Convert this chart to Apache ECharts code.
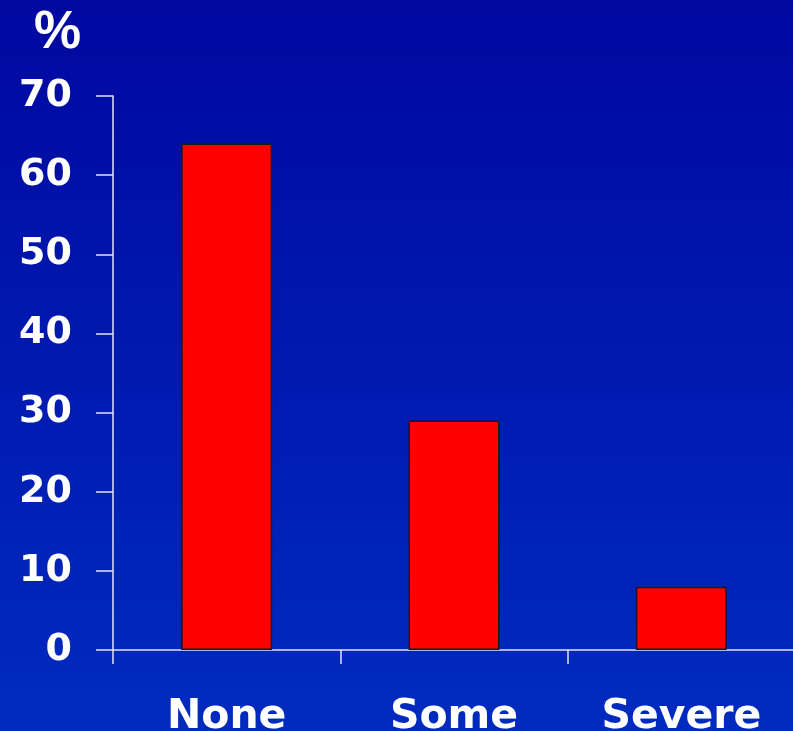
<!DOCTYPE html>
<html>
<head>
<meta charset="utf-8">
<script src="https://cdn.jsdelivr.net/npm/echarts@6/dist/echarts.min.js"></script>
<style>
  html, body { margin: 0; padding: 0; background: #0018B0; overflow: hidden; }
  #chart { width: 793px; height: 731px; }
</style>
</head>
<body>
<div id="chart"></div>
<script>
// Severity categories and the share (%) in each
const categories = ['None', 'Some', 'Severe'];
const percentValues = [64, 29, 8];
const yTicks = { min: 0, max: 70, interval: 10 };
const unitLabel = '%';

const chart = echarts.init(document.getElementById('chart'), null, { renderer: 'canvas' });

const axisColor = '#E4E4F4';

chart.setOption({
  animation: false,
  backgroundColor: {
    type: 'linear', x: 0, y: 0, x2: 0, y2: 1,
    colorStops: [
      { offset: 0, color: '#0008A0' },
      { offset: 1, color: '#002BBF' }
    ]
  },
  title: {
    text: unitLabel,
    left: 29,
    top: 2,
    textStyle: {
      color: '#FFFFFF',
      fontFamily: 'Liberation Sans',
      fontWeight: 'bold',
      fontSize: 53
    }
  },
  // fixed plot rectangle; labels may sit outside it without shrinking it
  grid: {
    left: 113, width: 682, top: 96, height: 554,
    containLabel: false,
    outerBoundsMode: 'none'
  },
  xAxis: {
    type: 'category',
    data: categories,
    axisLine: { show: true, lineStyle: { color: axisColor, width: 1.5 } },
    axisTick: { show: true, alignWithLabel: false, length: 14, lineStyle: { color: axisColor, width: 1.5 } },
    axisLabel: {
      color: '#FFFFFF',
      fontFamily: 'DejaVu Sans',
      fontWeight: 'bold',
      fontSize: 41,
      margin: 47
    },
    splitLine: { show: false }
  },
  yAxis: {
    type: 'value',
    min: yTicks.min,
    max: yTicks.max,
    interval: yTicks.interval,
    axisLine: { show: true, lineStyle: { color: axisColor, width: 1.5 } },
    axisTick: { show: true, length: 17, lineStyle: { color: axisColor, width: 1.5 } },
    axisLabel: {
      color: '#FFFFFF',
      fontFamily: 'DejaVu Sans',
      fontWeight: 'bold',
      fontSize: 38,
      margin: 41
    },
    splitLine: { show: false }
  },
  series: [{
    type: 'bar',
    data: percentValues,
    barWidth: '40%',
    itemStyle: { color: '#FF0000', borderColor: '#1A1A1A', borderWidth: 1.5 }
  }]
});
</script>
</body>
</html>
